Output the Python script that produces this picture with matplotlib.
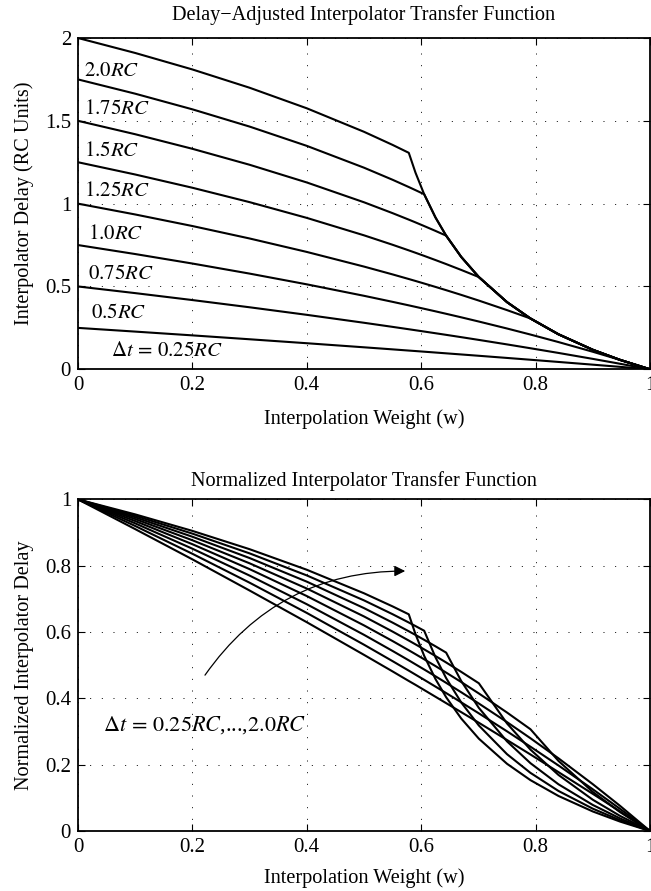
import matplotlib
matplotlib.use('Agg')
import matplotlib.pyplot as plt
import numpy as np

plt.rcParams['font.family'] = ['Liberation Serif', 'DejaVu Serif']
plt.rcParams['mathtext.fontset'] = 'stix'

# interpolation weight samples (shared by all curves)
weights = [0, 0.1, 0.2, 0.3, 0.4, 0.5, 0.55, 0.5783, 0.59, 0.6052, 0.625, 0.6436,
           0.67, 0.7008, 0.75, 0.791, 0.84, 0.9, 0.9476, 1.0]

# delay spacing of the two inputs, in RC units
delta_t = [0.25, 0.5, 0.75, 1.0, 1.25, 1.5, 1.75, 2.0]

# delay-adjusted interpolator delay (RC units)
delay_025 = [0.25, 0.2276, 0.2048, 0.1813, 0.1574, 0.1328, 0.1203, 0.1131, 0.1102, 0.1063,
             0.1012, 0.0964, 0.0896, 0.0816, 0.0686, 0.0577, 0.0444, 0.0280, 0.0148, 0.0]
delay_050 = [0.5, 0.4599, 0.4180, 0.3744, 0.3288, 0.2809, 0.2561, 0.2418, 0.2358, 0.2280,
             0.2177, 0.2080, 0.1940, 0.1774, 0.1503, 0.1271, 0.0988, 0.0629, 0.0334, 0.0]
delay_075 = [0.75, 0.6958, 0.6385, 0.5777, 0.5129, 0.4437, 0.4072, 0.3860, 0.3770, 0.3653,
             0.3499, 0.3351, 0.3138, 0.2883, 0.2463, 0.2098, 0.1644, 0.1059, 0.0569, 0.0]
delay_100 = [1.0, 0.9347, 0.8649, 0.7897, 0.7085, 0.6201, 0.5728, 0.5450, 0.5333, 0.5178,
             0.4973, 0.4777, 0.4492, 0.4148, 0.3573, 0.3069, 0.2113, 0.1178, 0.0569, 0.0]
delay_125 = [1.25, 1.1760, 1.0960, 1.0091, 0.9140, 0.8088, 0.7517, 0.7179, 0.7036, 0.6847,
             0.6595, 0.6353, 0.5998, 0.5569, 0.4055, 0.3068, 0.2113, 0.1178, 0.0569, 0.0]
delay_150 = [1.5, 1.4191, 1.3311, 1.2347, 1.1279, 1.0083, 0.9426, 0.9035, 0.8869, 0.8648,
             0.8354, 0.8069, 0.6783, 0.5568, 0.4055, 0.3068, 0.2113, 0.1178, 0.0569, 0.0]
delay_175 = [1.75, 1.6638, 1.5694, 1.4652, 1.3488, 1.2171, 1.1441, 1.1003, 1.0816, 1.0569,
             0.9163, 0.8069, 0.6783, 0.5568, 0.4055, 0.3068, 0.2113, 0.1178, 0.0569, 0.0]
delay_200 = [2.0, 1.9096, 1.8101, 1.6997, 1.5756, 1.4338, 1.3546, 1.3069, 1.1872, 1.0566,
             0.9163, 0.8069, 0.6783, 0.5568, 0.4055, 0.3068, 0.2113, 0.1178, 0.0569, 0.0]

delays = [delay_025, delay_050, delay_075, delay_100,
          delay_125, delay_150, delay_175, delay_200]

curve_labels = [r'$\Delta t\,=\,0.25RC$', r'$0.5RC$', r'$0.75RC$', r'$1.0RC$',
                r'$1.25RC$', r'$1.5RC$', r'$1.75RC$', r'$2.0RC$']
label_x = [0.057, 0.022, 0.017, 0.017, 0.011, 0.011, 0.011, 0.011]
label_y = [0.11, 0.336, 0.574, 0.815, 1.071, 1.312, 1.57, 1.80]

W, H = 651, 891
fig = plt.figure(figsize=(W / 100, H / 100), dpi=100)
ax1 = fig.add_axes([78 / W, 1 - 369.3 / H, 572 / W, 331.3 / H])
ax2 = fig.add_axes([78 / W, 1 - 831 / H, 572 / W, 331.6 / H])

fs = 14.6
grid_kw = dict(color='k', linestyle=(0, (1, 11)), linewidth=0.7)


def style_axes(ax):
    ax.set_xlim(0, 1)
    ax.set_xticks([0, 0.2, 0.4, 0.6, 0.8, 1])
    ax.set_xticklabels(['0', '0.2', '0.4', '0.6', '0.8', '1'])
    ax.tick_params(direction='in', top=True, right=True, labelsize=15, length=5, pad=5)
    for sp in ax.spines.values():
        sp.set_linewidth(1.3)
    ax.grid(True, **grid_kw)
    ax.set_axisbelow(True)


# top panel: delay-adjusted transfer function
for d in delays:
    ax1.plot(weights, d, color='k', lw=1.5)
for txt, x, y in zip(curve_labels, label_x, label_y):
    ax1.text(x, y, txt, fontsize=15, va='center', ha='left')
style_axes(ax1)
ax1.set_ylim(0, 2)
ax1.set_yticks([0, 0.5, 1, 1.5, 2])
ax1.set_yticklabels(['0', '0.5', '1', '1.5', '2'])
ax1.set_title('Delay\u2212Adjusted Interpolator Transfer Function', fontsize=fs, pad=13)
ax1.set_xlabel('Interpolation Weight (w)', fontsize=fs, labelpad=10)
ax1.set_ylabel('Interpolator Delay (RC Units)', fontsize=fs, labelpad=8)

# bottom panel: normalized transfer function
for dt, d in zip(delta_t, delays):
    ax2.plot(weights, np.array(d) / dt, color='k', lw=1.5)
ax2.annotate('', xy=(0.572, 0.784), xytext=(0.222, 0.47),
             arrowprops=dict(arrowstyle='-|>', color='k', lw=0.9, mutation_scale=16,
                             connectionstyle='arc3,rad=-0.26', shrinkA=0, shrinkB=0))
ax2.text(0.043, 0.32, r'$\Delta t\,=\,0.25RC$,...,$\mathit{2.0RC}$', fontsize=16,
         va='center', ha='left')
style_axes(ax2)
ax2.set_ylim(0, 1)
ax2.set_yticks([0, 0.2, 0.4, 0.6, 0.8, 1])
ax2.set_yticklabels(['0', '0.2', '0.4', '0.6', '0.8', '1'])
ax2.set_title('Normalized Interpolator Transfer Function', fontsize=fs, pad=10)
ax2.set_xlabel('Interpolation Weight (w)', fontsize=fs, labelpad=8)
ax2.set_ylabel('Normalized Interpolator Delay', fontsize=fs, labelpad=8)

fig.savefig('out.png', dpi=100)
